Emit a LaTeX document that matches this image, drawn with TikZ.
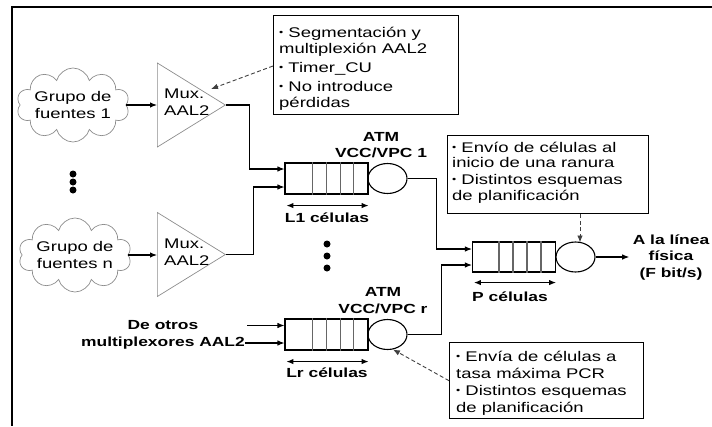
\documentclass[tikz,border=0pt]{standalone}
\usepackage{fontspec}
\setmainfont{Liberation Sans}[FakeStretch=1.32]
\usetikzlibrary{shapes.geometric,shapes.symbols,arrows.meta,calc}
\newcommand{\bul}{\raisebox{0.12em}{\fontsize{9}{9}\selectfont •}}
\begin{document}
\begin{tikzpicture}[x=1pt,y=-1pt,
  reg/.style={font=\fontsize{14}{17}\selectfont},
  bld/.style={font=\fontsize{13.2}{16.5}\selectfont\bfseries},
  src/.style={cloud, cloud puffs=10, cloud ignores aspect, draw=black!45, line width=0.7pt,
    minimum width=110pt, minimum height=74pt, inner sep=0pt, align=center, reg},
  mux/.style={isosceles triangle, isosceles triangle stretches, shape border rotate=0,
    draw=black!45, line width=0.7pt, minimum width=84pt, minimum height=68pt, inner sep=0pt},
  queue/.style={draw, line width=1.1pt, minimum width=83pt, minimum height=31pt, inner sep=0pt},
  server/.style={ellipse, draw, line width=1.1pt, minimum width=39pt, minimum height=30pt, inner sep=0pt},
  note/.style={draw, line width=1.4pt, inner sep=0pt, anchor=north west},
  notetext/.style={align=left, inner sep=0pt, anchor=base west},
  div/.style={line width=1.1pt, black!60},
  arr/.style={line width=1.1pt, -{Latex[length=7pt,width=5.5pt]}},
  dbl/.style={line width=1.1pt, {Latex[length=7pt,width=5.5pt]}-{Latex[length=7pt,width=5.5pt]}},
  dsh/.style={line width=0.9pt, black!75, dash pattern=on 4pt off 2.5pt, -{Latex[length=7pt,width=5.5pt]}},
  dot/.style={circle, fill, inner sep=0pt, minimum size=7pt},
]
\useasboundingbox (0,0) rectangle (712,426);
% frame
\draw[line width=2pt] (712,7) -- (12,7) -- (12,426);

% sources
\node[src] (c1) at (73,105) {Grupo de\\fuentes 1};
\node[src] (cn) at (75,255) {Grupo de\\fuentes n};
\node[mux, anchor=lower side] (m1) at (157,105) {};
\node[mux, anchor=lower side] (mn) at (157,254.5) {};
\node[reg, align=left, anchor=west, inner sep=0pt] (mt1) at (164,102) {Mux.\\AAL2};
\node[reg, align=left, anchor=west, inner sep=0pt] (mtn) at (164,252) {Mux.\\AAL2};
\draw[arr] (c1.east) -- (c1.east -| m1.lower side);
\draw[arr] (cn.east) -- (cn.east -| mn.lower side);

\node[dot] (d1) at (73,174) {};
\node[dot] (d2) at (73,182) {};
\node[dot] (d3) at (73,190) {};

% notes (text anchored at the baseline of its last line)
\node[note, minimum width=185pt, minimum height=99pt] (b1) at (273,15) {};
\node[notetext, font=\fontsize{14}{16}\selectfont] (b1t) at (279,107)
  {\bul{} Segmentación y\\multiplexión AAL2\\[3pt]\bul{} Timer\_CU\\[3pt]\bul{} No introduce\\pérdidas};
\node[note, minimum width=201pt, minimum height=78pt] (b2) at (447,135) {};
\node[notetext, font=\fontsize{14}{15.5}\selectfont] (b2t) at (452,200)
  {\bul{} Envío de células al\\inicio de una ranura\\[1.5pt]\bul{} Distintos esquemas\\de planificación};
\node[note, minimum width=194pt, minimum height=76pt] (b3) at (449,342) {};
\node[notetext, font=\fontsize{14}{17}\selectfont] (b3t) at (456,412)
  {\bul{} Envía de células a\\tasa máxima PCR\\\bul{} Distintos esquemas\\de planificación};

% queue 1
\node[queue] (q1) at (326.5,178.5) {};
\foreach \d in {28,42,56,69} \draw[div] ($(q1.north west)+(\d,0)$) -- ($(q1.south west)+(\d,0)$);
\node[server] (s1) at (387.5,178.5) {};
\node[bld, align=center] (atm1) at (381,145) {ATM\\VCC/VPC 1};
\coordinate (l1a) at ($(q1.south west)+(2,11)$);
\coordinate (l1b) at ($(q1.south east)+(0,11)$);
\draw[dbl] (l1a) -- (l1b);
\node[bld] (l1) at (327,218) {L1 células};

% middle dots
\node[dot] (e1) at (327,244) {};
\node[dot] (e2) at (327,256) {};
\node[dot] (e3) at (327,268) {};

% queue r
\node[queue] (qr) at (326.5,334.5) {};
\foreach \d in {28,42,56,69} \draw[div] ($(qr.north west)+(\d,0)$) -- ($(qr.south west)+(\d,0)$);
\node[server] (sr) at (387.5,334.5) {};
\node[bld, align=center] (atmr) at (383,300.5) {ATM\\VCC/VPC r};
\coordinate (lra) at ($(qr.south west)+(2,11)$);
\coordinate (lrb) at ($(qr.south east)+(0,11)$);
\draw[dbl] (lra) -- (lrb);
\node[bld] (lr) at (327,373) {Lr células};
\node[bld, align=center] (oth) at (163,335) {De otros\\multiplexores AAL2};
\coordinate (i1) at (247,325.5);
\coordinate (i2) at (245,343);
\draw[arr] (i1) -- (i1 -| qr.west);
\draw[arr] (i2) -- (i2 -| qr.west);

% queue P
\node[queue, minimum height=30pt] (qP) at (514,257) {};
\foreach \d in {27,41,55,69} \draw[div] ($(qP.north west)+(\d,0)$) -- ($(qP.south west)+(\d,0)$);
\node[server] (sP) at (575.5,257) {};
\coordinate (lpa) at ($(qP.south west)+(2,10)$);
\coordinate (lpb) at ($(qP.south east)+(0,10)$);
\draw[dbl] (lpa) -- (lpb);
\node[bld] (lp) at (510,297) {P células};
\node[bld, align=center] (out) at (671,257.5) {A la línea\\física\\(F bit/s)};
\draw[arr] (sP.east) -- (sP.east -| out.west);

% connectors
\draw[arr] (m1.apex) -- ++(23,0) |- ($(q1.west)+(0,-9.5)$);
\draw[arr] (mn.apex) -- ++(27,0) |- ($(q1.west)+(0,8.5)$);
\draw[arr] (s1.east) -- ++(28.5,0) |- ($(qP.west)+(0,-8)$);
\draw[arr] (sr.east) -- ++(33.5,0) |- ($(qP.west)+(0,8)$);

% dashed annotations
\coordinate (t1) at (211,89);
\draw[dsh] (b1.west |- 0,66) -- (t1);
\coordinate (t2) at (580,242.5);
\draw[dsh] (b2.south -| t2) -- (t2);
\draw[dsh] (b3.west) -- (sr.-70);
\end{tikzpicture}
\end{document}
